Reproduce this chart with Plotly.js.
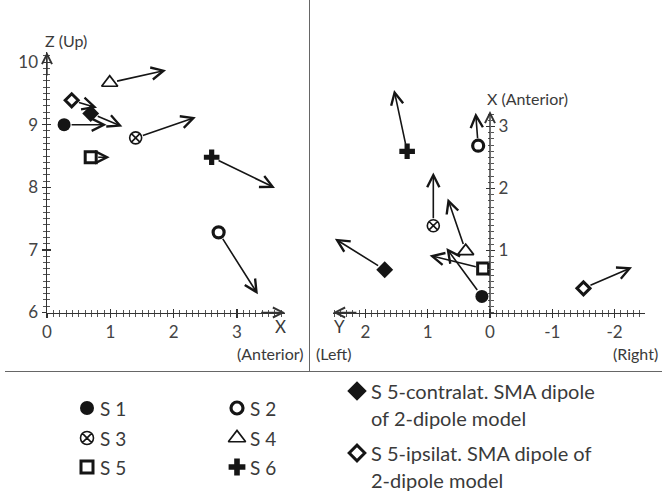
<!DOCTYPE html>
<html>
<head>
<meta charset="utf-8">
<script src="https://cdn.plot.ly/plotly-3.0.1.min.js"></script>
<style>html,body{margin:0;padding:0;background:#fff;}#chart{width:662px;height:493px;}</style>
</head>
<body>
<div id="chart"></div>
<script>
// ---- data ----
const subjects = ['S 1','S 2','S 3','S 4','S 5','S 6','S 5-contralat.','S 5-ipsilat.'];
// Left panel: sagittal view, X (Anterior) vs Z (Up) — dipole location and arrow tip
const sagX0 = [0.27, 2.71, 1.40, 0.99, 0.69, 2.60, 0.69, 0.39];
const sagZ0 = [9.00, 7.28, 8.79, 9.67, 8.48, 8.48, 9.18, 9.39];
const sagX1 = [0.94, 3.33, 2.35, 1.88, 0.99, 3.60, 1.19, 0.79];
const sagZ1 = [9.00, 6.29, 9.12, 9.87, 8.48, 7.99, 8.97, 9.27];
// Right panel: axial view, Y (Left/Right) vs X (Anterior)
const axY0 = [0.13, 0.19, 0.91, 0.39, 0.11, 1.33, 1.69, -1.50];
const axX0 = [0.26, 2.69, 1.40, 0.99, 0.71, 2.60, 0.69, 0.39];
const axY1 = [0.70, 0.23, 0.91, 0.68, 0.97, 1.54, 2.49, -2.28];
const axX1 = [1.04, 3.22, 2.26, 1.84, 0.92, 3.59, 1.19, 0.73];
// tick labels
const sagXTicks = [0, 1, 2, 3];
const sagZTicks = [6, 7, 8, 9, 10];
const axYTicks = [2, 1, 0, -1, -2];
const axYTickText = ['2', '1', '0', '-1', '-2'];
const axXTicks = [1, 2, 3];
const legendLabels = ['S 1','S 2','S 3','S 4','S 5','S 6'];
const legendLong = [['S 5-contralat. SMA dipole','of 2-dipole model'],['S 5-ipsilat. SMA dipole of','2-dipole model']];

// ---- styles ----
const W = 662, H = 493;
const px = x => x / W, py = y => 1 - y / H;
const INK = '#151515', TXT = '#3a3a3a', AXC = '#333';
const FONT = 'Lato, "Open Sans", sans-serif';
const markerStyles = [
  {symbol:'circle', size:13, color:INK, line:{width:0}},
  {symbol:'circle-open', size:11, color:INK, line:{width:3.2, color:INK}},
  {symbol:'circle-x-open', size:12, color:INK, line:{width:1.6, color:INK}},
  {symbol:'triangle-up-open', size:14, color:INK, line:{width:1.7, color:INK}},
  {symbol:'square-open', size:11, color:INK, line:{width:3, color:INK}},
  {symbol:'cross', size:13, color:INK, line:{width:0}},
  {symbol:'diamond', size:13, color:INK, line:{width:0}},
  {symbol:'diamond-open', size:10, color:INK, line:{width:3, color:INK}}
];

// axis geometry (pixel-based)
const L = {x0:47, x1:285, ytop:52, ybot:312.5, pxu:63.33, pyu:62.6};
const sagXRange = [0, (L.x1 - L.x0) / L.pxu];
const sagZRange = [6, 6 + (L.ybot - L.ytop) / L.pyu];
const R = {x0:333, x1:645, xzero:490, ytop:80, ybot:312.5, pxu:62.3, pyu:62};
const axYRange = [(R.xzero - R.x0) / R.pxu, -(R.x1 - R.xzero) / R.pxu];
const axXRange = [0, (R.ybot - R.ytop) / R.pyu];
const axXArrowTop = 3.25;
// minor tick positions on the right panel's vertical axis (only up to its arrow)
const axXMinor = [];
for (let k = 0; k <= 32; k++) axXMinor.push(k / 10);

const traces = [];
subjects.forEach((s, i) => {
  traces.push({type:'scatter', mode:'markers', x:[sagX0[i]], y:[sagZ0[i]], xaxis:'x', yaxis:'y',
    marker:markerStyles[i], showlegend:false, hoverinfo:'skip', cliponaxis:false});
  traces.push({type:'scatter', mode:'markers', x:[axY0[i]], y:[axX0[i]], xaxis:'x2', yaxis:'y2',
    marker:markerStyles[i], showlegend:false, hoverinfo:'skip', cliponaxis:false});
});
// overlay axes for crossing ticks
traces.push({type:'scatter', x:[], y:[], xaxis:'x4', yaxis:'y4', showlegend:false});
traces.push({type:'scatter', x:[], y:[], xaxis:'x5', yaxis:'y5', showlegend:false});

// legend (pixel-space overlay axis)
const legPos = [[87,408],[237,408],[87,438],[237,438],[87,467],[237,467]];
const annotations = [];
legendLabels.forEach((lab, i) => {
  traces.push({type:'scatter', mode:'markers', x:[legPos[i][0]], y:[legPos[i][1]], xaxis:'x3', yaxis:'y3',
    marker:Object.assign({}, markerStyles[i], {size: markerStyles[i].size + 1}), showlegend:false, hoverinfo:'skip', cliponaxis:false});
  annotations.push({xref:'paper', yref:'paper', x:px(legPos[i][0] + 12), y:py(legPos[i][1]), xanchor:'left', yanchor:'middle',
    text:lab, showarrow:false, borderpad:0, font:{family:FONT, size:19, color:TXT}});
});
const longPos = [[357,391],[357,453]];
legendLong.forEach((lines, k) => {
  traces.push({type:'scatter', mode:'markers', x:[longPos[k][0]], y:[longPos[k][1]], xaxis:'x3', yaxis:'y3',
    marker:Object.assign({}, markerStyles[6 + k], {size: markerStyles[6 + k].size + 2}), showlegend:false, hoverinfo:'skip', cliponaxis:false});
  lines.forEach((ln, j) => {
    annotations.push({xref:'paper', yref:'paper', x:px(370), y:py(longPos[k][1] + j * 27), xanchor:'left', yanchor:'middle',
      text:ln, showarrow:false, borderpad:0, font:{family:FONT, size:20, color:TXT}});
  });
});

// data arrows
const arrowBase = {text:'', showarrow:true, arrowhead:5, arrowsize:1.5, arrowwidth:1.6, arrowcolor:INK, startstandoff:6, standoff:0};
subjects.forEach((s, i) => {
  annotations.push(Object.assign({}, arrowBase, {xref:'x', yref:'y', axref:'x', ayref:'y',
    x:sagX1[i], y:sagZ1[i], ax:sagX0[i], ay:sagZ0[i]}));
  annotations.push(Object.assign({}, arrowBase, {xref:'x2', yref:'y2', axref:'x2', ayref:'y2',
    x:axY1[i], y:axX1[i], ax:axY0[i], ay:axX0[i]}));
});
// axis arrowheads
const axArrow = {text:'', showarrow:true, arrowhead:5, arrowsize:1.4, arrowwidth:1.4, arrowcolor:AXC, standoff:0};
annotations.push(Object.assign({}, axArrow, {xref:'x', yref:'y', axref:'x', ayref:'y', x:sagXRange[1], y:6, ax:sagXRange[1]-0.4, ay:6}));
annotations.push(Object.assign({}, axArrow, {xref:'x', yref:'y', axref:'x', ayref:'y', x:0, y:sagZRange[1], ax:0, ay:sagZRange[1]-0.4}));
annotations.push(Object.assign({}, axArrow, {xref:'x2', yref:'y2', axref:'x2', ayref:'y2', x:axYRange[0], y:0, ax:axYRange[0]-0.4, ay:0}));
annotations.push(Object.assign({}, axArrow, {xref:'x2', yref:'y2', axref:'x2', ayref:'y2', x:0, y:axXArrowTop, ax:0, ay:0}));

// axis titles / side labels
const lblFont = {family:FONT, size:16, color:TXT};
const txt = (x, y, t, xa, size) => ({xref:'paper', yref:'paper', x:px(x), y:py(y), text:t, showarrow:false,
  xanchor:xa || 'center', yanchor:'middle', font:Object.assign({}, lblFont, size ? {size:size} : {})});
annotations.push(txt(43, 40, 'Z (Up)', 'left'));
annotations.push(txt(280, 326, 'X', 'center', 17));
annotations.push(txt(306, 353, '(Anterior)', 'right'));
annotations.push(txt(485, 98, 'X (Anterior)', 'left'));
annotations.push(txt(339, 326, 'Y', 'center', 17));
annotations.push(txt(314, 353, '(Left)', 'left'));
annotations.push(txt(660, 353, '(Right)', 'right'));

const tickFont = {family:FONT, size:17, color:'#444'};
const baseAx = {showgrid:false, zeroline:false, fixedrange:true, autorange:false,
  tickfont:tickFont, tickcolor:AXC, tickwidth:1.2, ticklen:4, linecolor:AXC, linewidth:1.5};
const minorOut = {ticks:'outside', dtick:0.1, ticklen:2.5, tickwidth:1, tickcolor:'#555', showgrid:false};
const minorIn = Object.assign({}, minorOut, {ticks:'inside'});
const minorOutV = Object.assign({}, minorOut, {tickmode:'array', tickvals:axXMinor});
const minorInV = Object.assign({}, minorIn, {tickmode:'array', tickvals:axXMinor});

const layout = {
  width:W, height:H, margin:{l:0, r:0, t:0, b:0},
  paper_bgcolor:'#fff', plot_bgcolor:'rgba(0,0,0,0)', showlegend:false,
  font:{family:FONT, color:TXT},
  xaxis:Object.assign({}, baseAx, {domain:[px(L.x0), px(L.x1)], range:sagXRange, anchor:'y', showline:true,
    ticks:'outside', tickmode:'array', tickvals:sagXTicks, minor:minorOut}),
  yaxis:Object.assign({}, baseAx, {domain:[py(L.ybot), py(L.ytop)], range:sagZRange, anchor:'x', showline:true,
    ticks:'outside', tickmode:'array', tickvals:sagZTicks, minor:minorOut}),
  xaxis4:Object.assign({}, baseAx, {domain:[px(L.x0), px(L.x1)], range:sagXRange, anchor:'y4', overlaying:'x', showline:false,
    ticks:'inside', tickmode:'array', tickvals:sagXTicks, showticklabels:false, minor:minorIn}),
  yaxis4:Object.assign({}, baseAx, {domain:[py(L.ybot), py(L.ytop)], range:sagZRange, anchor:'x4', overlaying:'y', showline:false,
    ticks:'inside', tickmode:'array', tickvals:sagZTicks, showticklabels:false, minor:minorIn}),
  xaxis2:Object.assign({}, baseAx, {domain:[px(R.x0), px(R.x1)], range:axYRange, anchor:'y2', showline:true,
    ticks:'outside', tickmode:'array', tickvals:axYTicks, ticktext:axYTickText, minor:minorOut}),
  yaxis2:Object.assign({}, baseAx, {domain:[py(R.ybot), py(R.ytop)], range:axXRange, anchor:'free', position:px(R.xzero), side:'right',
    showline:false, ticks:'outside', tickmode:'array', tickvals:axXTicks, minor:minorOutV}),
  xaxis5:Object.assign({}, baseAx, {domain:[px(R.x0), px(R.x1)], range:axYRange, anchor:'y5', overlaying:'x2', showline:false,
    ticks:'inside', tickmode:'array', tickvals:axYTicks, showticklabels:false, minor:minorIn}),
  yaxis5:Object.assign({}, baseAx, {domain:[py(R.ybot), py(R.ytop)], range:axXRange, anchor:'free', position:px(R.xzero), side:'right',
    overlaying:'y2', showline:false, ticks:'inside', tickmode:'array', tickvals:axXTicks, showticklabels:false, minor:minorInV}),
  xaxis3:{domain:[0,1], range:[0,W], visible:false, fixedrange:true, anchor:'y3'},
  yaxis3:{domain:[0,1], range:[H,0], visible:false, fixedrange:true, anchor:'x3'},
  shapes:[
    {type:'line', xref:'paper', yref:'paper', x0:px(309.5), x1:px(309.5), y0:py(0), y1:py(372), line:{color:'#666', width:1}},
    {type:'line', xref:'paper', yref:'paper', x0:px(5), x1:px(662), y0:py(371.5), y1:py(371.5), line:{color:'#666', width:1}}
  ],
  annotations:annotations
};
Plotly.newPlot('chart', traces, layout, {staticPlot:true, displayModeBar:false});
</script>
</body>
</html>
